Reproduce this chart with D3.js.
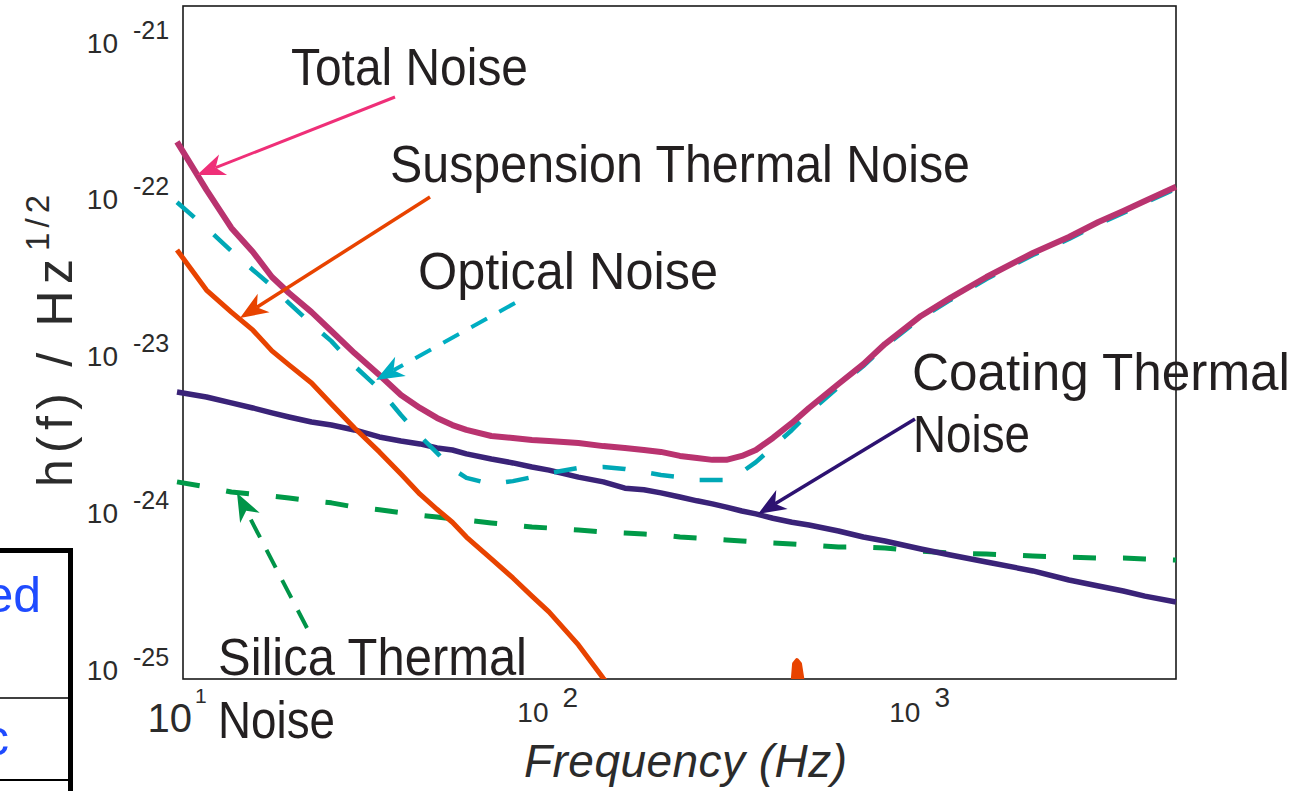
<!DOCTYPE html>
<html>
<head>
<meta charset="utf-8">
<script src="https://cdn.jsdelivr.net/npm/d3@7"></script>
<style>
  body { margin: 0; background: #fff; }
  svg { display: block; }
  text { font-family: "Liberation Sans", Arial, Helvetica, sans-serif; fill: #231f20; }
</style>
</head>
<body>
<svg id="chart" width="1296" height="791"></svg>
<script>
// Frequency grid (Hz) shared by the noise curves
const freq = [10, 12, 14, 16, 18, 20, 23, 26, 30, 35,
              40, 45, 50, 55, 60, 70, 80, 90, 100, 120,
              140, 160, 180, 200, 225, 250, 275, 300, 330, 360,
              400, 450, 500, 600, 700, 800, 1000, 1200, 1500, 2000,
              2500, 3000, 3500, 4000, 4850];

// Strain noise spectral densities h(f) in 1/sqrt(Hz)
const totalNoise = [2.67e-22, 1.32e-22, 7.54e-23, 5.30e-23, 3.67e-23, 2.90e-23, 2.19e-23, 1.66e-23, 1.20e-23, 8.70e-24,
                    6.48e-24, 5.36e-24, 4.63e-24, 4.17e-24, 3.88e-24, 3.55e-24, 3.45e-24, 3.35e-24, 3.30e-24, 3.20e-24,
                    3.06e-24, 2.98e-24, 2.89e-24, 2.81e-24, 2.65e-24, 2.57e-24, 2.50e-24, 2.50e-24, 2.65e-24, 2.89e-24,
                    3.45e-24, 4.30e-24, 5.36e-24, 7.62e-24, 1.02e-23, 1.37e-23, 2.07e-23, 2.70e-23, 3.67e-23, 5.22e-23,
                    6.60e-23, 8.23e-23, 9.67e-23, 1.12e-22, 1.38e-22];

const opticalNoise = [1.10e-22, 7.54e-23, 5.38e-23, 4.07e-23, 3.21e-23, 2.50e-23, 1.84e-23, 1.43e-23, 9.93e-24, 7.08e-24,
                      4.83e-24, 3.55e-24, 2.77e-24, 2.19e-24, 1.92e-24, 1.75e-24, 1.83e-24, 1.94e-24, 2.06e-24, 2.22e-24,
                      2.25e-24, 2.19e-24, 2.09e-24, 2.00e-24, 1.94e-24, 1.86e-24, 1.86e-24, 1.86e-24, 2.09e-24, 2.42e-24,
                      3.02e-24, 3.88e-24, 4.98e-24, 7.29e-24, 9.93e-24, 1.33e-23, 2.01e-23, 2.62e-23, 3.56e-23, 5.07e-23,
                      6.41e-23, 7.99e-23, 9.40e-23, 1.09e-22, 1.34e-22];

const coatingThermal = [6.77e-24, 6.30e-24, 5.77e-24, 5.36e-24, 4.98e-24, 4.69e-24, 4.36e-24, 4.17e-24, 3.88e-24, 3.50e-24,
                        3.30e-24, 3.16e-24, 2.98e-24, 2.89e-24, 2.73e-24, 2.53e-24, 2.39e-24, 2.25e-24, 2.15e-24, 1.94e-24,
                        1.81e-24, 1.65e-24, 1.61e-24, 1.54e-24, 1.45e-24, 1.37e-24, 1.31e-24, 1.25e-24, 1.18e-24, 1.13e-24,
                        1.06e-24, 1.00e-24, 9.60e-25, 8.79e-25, 8.05e-25, 7.59e-25, 6.75e-25, 6.18e-25, 5.58e-25, 4.89e-25,
                        4.28e-25, 3.92e-25, 3.64e-25, 3.38e-25, 3.10e-25];

const silicaThermal = [1.81e-24, 1.68e-24, 1.56e-24, 1.51e-24, 1.47e-24, 1.43e-24, 1.37e-24, 1.33e-24, 1.25e-24, 1.20e-24,
                       1.15e-24, 1.11e-24, 1.08e-24, 1.05e-24, 1.03e-24, 9.89e-25, 9.60e-25, 9.33e-25, 9.19e-25, 8.92e-25,
                       8.67e-25, 8.54e-25, 8.41e-25, 8.29e-25, 8.05e-25, 7.93e-25, 7.82e-25, 7.70e-25, 7.59e-25, 7.48e-25,
                       7.37e-25, 7.27e-25, 7.16e-25, 6.95e-25, 6.95e-25, 6.85e-25, 6.55e-25, 6.37e-25, 6.27e-25, 6.09e-25,
                       6.00e-25, 5.91e-25, 5.91e-25, 5.83e-25, 5.74e-25];

const suspensionThermal = [5.46e-23, 3.03e-23, 2.19e-23, 1.68e-23, 1.24e-23, 1.01e-23, 7.73e-24, 5.68e-24, 3.99e-24, 2.81e-24,
                           2.03e-24, 1.51e-24, 1.21e-24, 1.00e-24, 8.05e-25, 5.83e-25, 4.41e-25, 3.38e-25, 2.68e-25, 1.65e-25,
                           1.01e-25, 7.03e-26, null, null, null, null, null, null, null, null,
                           null, null, null, null, null, null, null, null, null, null,
                           null, null, null, null, null];

// First violin-mode resonance of the suspension
const violinFreq = [439, 456, 464, 473, 509];
const violinAmp  = [4.08e-26, 1.25e-25, 1.32e-25, 1.25e-25, 4.08e-26];

// Decade tick labels
const xTickExp = [2, 3];
const yTickExp = [-21, -22, -23, -24, -25];

const W = 1296, H = 791;
const svg = d3.select("#chart");

const x = d3.scaleLog().domain([10, 4850]).range([177, 1176]);
const y = d3.scaleLog().domain([1e-25, 1e-21]).range([679, 52]);

const frame = { left: 183, top: 6, right: 1176, bottom: 679 };
const tickColor = "#2b2b2b";

// ---- fragment of the neighbouring table on the left ----
const tbl = svg.append("g");
tbl.append("line").attr("x1", 0).attr("x2", 73).attr("y1", 550.5).attr("y2", 550.5)
  .attr("stroke", "#000").attr("stroke-width", 5);
tbl.append("line").attr("x1", 70.5).attr("x2", 70.5).attr("y1", 548).attr("y2", H)
  .attr("stroke", "#000").attr("stroke-width", 5);
tbl.append("line").attr("x1", 0).attr("x2", 70).attr("y1", 698).attr("y2", 698)
  .attr("stroke", "#000").attr("stroke-width", 1.6);
tbl.append("line").attr("x1", 0).attr("x2", 70).attr("y1", 780).attr("y2", 780)
  .attr("stroke", "#000").attr("stroke-width", 2);
tbl.append("text").attr("x", 41).attr("y", 612).attr("text-anchor", "end")
  .style("font-size", "50px").style("fill", "#1f4bff").text("ed");
tbl.append("text").attr("x", 9).attr("y", 755).attr("text-anchor", "end")
  .style("font-size", "50px").style("fill", "#1f4bff").text("c");

// ---- plot frame ----
svg.append("rect")
  .attr("x", frame.left).attr("y", frame.top)
  .attr("width", frame.right - frame.left).attr("height", frame.bottom - frame.top)
  .attr("fill", "none").attr("stroke", "#1a1a1a").attr("stroke-width", 1.6);

// ---- axes (labels only, no tick marks) ----
const yAxis = svg.append("g").attr("transform", "translate(118,0)")
  .call(d3.axisLeft(y).tickValues(yTickExp.map(e => Math.pow(10, e))).tickSize(0).tickFormat(""));
yAxis.select(".domain").remove();
yAxis.selectAll(".tick").each(function (d) {
  const g = d3.select(this);
  g.select("text").remove();
  g.append("text").attr("x", 0).attr("y", 0).attr("text-anchor", "end")
    .style("font-size", "28px").style("fill", tickColor).text("10");
  g.append("text").attr("x", 15).attr("y", -14).attr("text-anchor", "start")
    .style("font-size", "25px").style("fill", tickColor).text(String(Math.round(Math.log10(d))));
});

const xAxis = svg.append("g").attr("transform", "translate(0,722)")
  .call(d3.axisBottom(x).tickValues(xTickExp.map(e => Math.pow(10, e))).tickSize(0).tickFormat(""));
xAxis.select(".domain").remove();
xAxis.selectAll(".tick").each(function (d) {
  const g = d3.select(this);
  g.select("text").remove();
  g.append("text").attr("x", -1).attr("y", 0).attr("text-anchor", "end")
    .style("font-size", "28px").style("fill", tickColor).text("10");
  g.append("text").attr("x", 13).attr("y", -15).attr("text-anchor", "start")
    .style("font-size", "28px").style("fill", tickColor).text(String(Math.round(Math.log10(d))));
});
// the first decade carries a larger label
const x10 = svg.append("g").attr("transform", `translate(${x(10)},732)`);
x10.append("text").attr("x", 15).attr("y", 0).attr("text-anchor", "end")
  .style("font-size", "40px").style("fill", tickColor).text("10");
x10.append("text").attr("x", 18).attr("y", -29).attr("text-anchor", "start")
  .style("font-size", "21px").style("fill", tickColor).text("1");

// axis titles
svg.append("text").attr("x", 524).attr("y", 777)
  .attr("textLength", 323).attr("lengthAdjust", "spacing")
  .style("font-size", "46px").style("font-style", "italic").style("fill", tickColor)
  .text("Frequency (Hz)");
const yt = svg.append("g").attr("transform", "translate(72,487) rotate(-90)");
yt.append("text").attr("x", 0).attr("y", 0)
  .attr("textLength", 228).attr("lengthAdjust", "spacing")
  .style("font-size", "50px").style("fill", tickColor).text("h(f) / Hz");
yt.append("text").attr("x", 236).attr("y", -23)
  .attr("textLength", 56).attr("lengthAdjust", "spacing")
  .style("font-size", "33px").style("fill", tickColor).text("1/2");

// ---- curves ----
svg.append("clipPath").attr("id", "plotClip")
  .append("rect").attr("x", 0).attr("y", 0).attr("width", W).attr("height", frame.bottom);

const line = d3.line()
  .defined(d => d.h != null)
  .x(d => x(d.f))
  .y(d => y(d.h));

const series = (vals, fs = freq) => fs.map((f, i) => ({ f: f, h: vals[i] }));

const curves = svg.append("g").attr("clip-path", "url(#plotClip)")
  .attr("fill", "none").attr("stroke-linejoin", "round");

curves.append("path").datum(series(silicaThermal)).attr("d", line)
  .attr("stroke", "#009a48").attr("stroke-width", 5).attr("stroke-dasharray", "23 27");
curves.append("path").datum(series(coatingThermal)).attr("d", line)
  .attr("stroke", "#3a2378").attr("stroke-width", 5.5);
curves.append("path").datum(series(suspensionThermal)).attr("d", line)
  .attr("stroke", "#e84300").attr("stroke-width", 5);
curves.append("path").datum(series(violinAmp, violinFreq)).attr("d", line)
  .attr("stroke", "#e84300").attr("stroke-width", 4).attr("fill", "#e84300");
curves.append("path").datum(series(opticalNoise)).attr("d", line)
  .attr("stroke", "#00a8b6").attr("stroke-width", 4.5).attr("stroke-dasharray", "23 26");
curves.append("path").datum(series(totalNoise)).attr("d", line)
  .attr("stroke", "#b9336f").attr("stroke-width", 6);

// ---- annotations ----
function arrow(from, tip, color, width, dash) {
  const dx = from[0] - tip[0], dy = from[1] - tip[1];
  const len = Math.hypot(dx, dy);
  const ux = dx / len, uy = dy / len, px = -uy, py = ux;
  const L = 28, hw = 11, notch = 8;
  const back = [tip[0] + ux * (L - notch), tip[1] + uy * (L - notch)];
  svg.append("line")
    .attr("x1", from[0]).attr("y1", from[1]).attr("x2", back[0]).attr("y2", back[1])
    .attr("stroke", color).attr("stroke-width", width)
    .attr("stroke-dasharray", dash || null);
  const pts = [
    tip,
    [tip[0] + ux * L + px * hw, tip[1] + uy * L + py * hw],
    back,
    [tip[0] + ux * L - px * hw, tip[1] + uy * L - py * hw]
  ];
  svg.append("polygon").attr("points", pts.map(p => p.join(",")).join(" ")).attr("fill", color);
}

arrow([395, 97], [197, 175], "#ef2f78", 3);
arrow([430, 197], [240, 318], "#e84300", 3.5);
arrow([515, 303], [376, 380], "#00aec2", 4, "18 14");
arrow([915, 419], [758, 514], "#2d1271", 3.5);
arrow([307, 628], [237, 493], "#009448", 4, "20 14");

function label(txt, x0, base, w) {
  svg.append("text").attr("x", x0).attr("y", base)
    .attr("textLength", w).attr("lengthAdjust", "spacingAndGlyphs")
    .style("font-size", "51px").text(txt);
}
label("Total Noise", 291, 85, 237);
label("Suspension Thermal Noise", 390, 182, 580);
label("Optical Noise", 418, 289, 300);
label("Coating Thermal", 912, 390, 378);
label("Noise", 913, 452, 117);
label("Silica Thermal", 218, 675, 309);
label("Noise", 218, 738, 117);
</script>
</body>
</html>
